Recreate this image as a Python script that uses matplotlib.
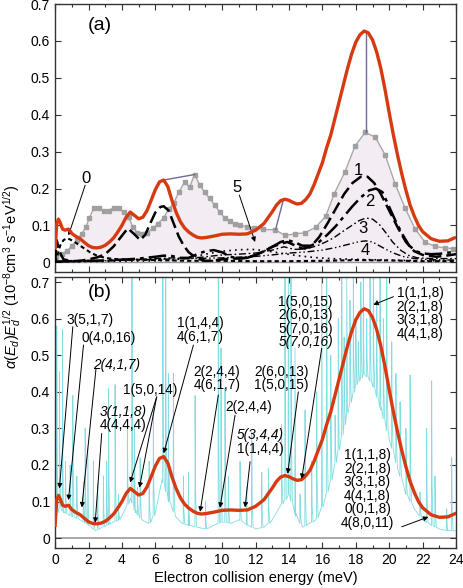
import numpy as np
import matplotlib
matplotlib.use("Agg")
import matplotlib.pyplot as plt
from matplotlib.ticker import MultipleLocator, FuncFormatter

plt.rcParams['font.family'] = ['Liberation Sans', 'DejaVu Sans']
plt.rcParams['mathtext.fontset'] = 'custom'
plt.rcParams['mathtext.rm'] = 'Liberation Sans'
plt.rcParams['mathtext.it'] = 'Liberation Sans:italic'
plt.rcParams['mathtext.bf'] = 'Liberation Sans:bold'

# ---------------- data ----------------
# convolved theory (red)
red_x = [0, 0.1, 0.2, 0.3, 0.45, 0.6, 0.8, 1.0, 1.25, 1.5, 1.75, 2.0, 2.25, 2.5, 2.75, 3.0, 3.25,
         3.5, 3.75, 4.0, 4.25, 4.5, 4.75, 5.0, 5.25, 5.5, 5.75, 6.0, 6.25, 6.5, 6.75, 7.0, 7.25,
         7.5, 7.75, 8.0, 8.25, 8.5, 8.75, 9.0, 9.5, 10.0, 10.5, 11.0, 11.5, 12.0, 12.5, 13.0,
         13.25, 13.5, 13.75, 14.0, 14.25, 14.5, 14.75, 15.0, 15.25, 15.5, 15.75, 16.0, 16.25,
         16.5, 16.75, 17.0, 17.25, 17.5, 17.75, 18.0, 18.25, 18.5, 18.75, 19.0, 19.25, 19.5,
         19.75, 20.0, 20.25, 20.5, 20.75, 21.0, 21.25, 21.5, 21.75, 22.0, 22.5, 23.0, 23.5, 24.0]
red_y = [0.035, 0.105, 0.117, 0.108, 0.09, 0.087, 0.09, 0.078, 0.07, 0.064, 0.054, 0.045, 0.04,
         0.039, 0.041, 0.046, 0.055, 0.066, 0.082, 0.1, 0.122, 0.136, 0.127, 0.118, 0.122, 0.14,
         0.168, 0.197, 0.218, 0.223, 0.205, 0.167, 0.135, 0.11, 0.093, 0.082, 0.074, 0.068,
         0.066, 0.067, 0.071, 0.076, 0.077, 0.076, 0.077, 0.087, 0.105, 0.137, 0.155, 0.167,
         0.171, 0.168, 0.162, 0.158, 0.16, 0.17, 0.185, 0.21, 0.24, 0.27, 0.31, 0.345, 0.39,
         0.435, 0.48, 0.525, 0.565, 0.597, 0.617, 0.627, 0.622, 0.603, 0.57, 0.525, 0.468,
         0.405, 0.345, 0.29, 0.24, 0.195, 0.155, 0.125, 0.1, 0.083, 0.064, 0.057, 0.058, 0.068]

# experiment (grey squares)
exp_x = [0.06, 0.4, 0.7, 1.0, 1.3, 1.6, 1.85, 2.05, 2.3, 2.6, 2.9, 3.2, 3.5, 3.8, 4.1, 4.4, 4.65,
         4.93, 5.23, 5.53, 5.84, 6.15, 6.5, 6.8, 7.1, 7.4, 7.75, 8.05, 8.35, 8.65, 8.95, 9.25,
         9.55, 9.85, 10.15, 10.47, 10.77, 11.07, 11.5, 11.9, 12.47, 13.17, 13.77, 14.37, 14.96,
         15.6, 16.2, 16.7, 17.35, 17.95, 18.55, 19.15, 19.75, 20.35, 20.95, 21.54, 22.14,
         22.74, 23.34, 23.84]
exp_y = [0.014, 0.022, 0.031, 0.044, 0.06, 0.078, 0.096, 0.12, 0.146, 0.148, 0.138, 0.14, 0.148,
         0.146, 0.135, 0.122, 0.096, 0.08, 0.077, 0.08, 0.092, 0.105, 0.12, 0.145, 0.16, 0.19,
         0.217, 0.204, 0.238, 0.21, 0.19, 0.173, 0.155, 0.137, 0.12, 0.112, 0.105, 0.1, 0.097,
         0.093, 0.089, 0.088, 0.073, 0.077, 0.08, 0.095, 0.125, 0.185, 0.245, 0.315, 0.352,
         0.34, 0.292, 0.213, 0.147, 0.091, 0.055, 0.043, 0.039, 0.037]

# partial contributions (black)
c0_x = [0, 0.15, 0.3, 0.5, 0.7, 0.9, 1.2, 1.5, 1.8, 2.1, 2.5, 3.0, 3.5, 4.0, 5.0, 6, 7, 8, 10,
        12, 14, 16, 18, 20, 22, 24]
c0_y = [0.0, 0.02, 0.045, 0.06, 0.065, 0.062, 0.054, 0.045, 0.036, 0.027, 0.018, 0.012, 0.009,
        0.008, 0.007, 0.006, 0.005, 0.004, 0.004, 0.003, 0.003, 0.004, 0.006, 0.005, 0.003, 0.003]
c1_x = [0, 0.1, 0.25, 0.5, 1.0, 1.5, 2, 2.5, 3, 3.5, 4, 4.35, 4.7, 5.1, 5.4, 5.7, 6, 6.3, 6.5,
        6.8, 7.1, 7.4, 7.7, 8, 8.5, 9, 9.5, 10, 10.5, 11, 11.5, 12, 12.5, 13, 13.5, 13.9, 14.3,
        14.8, 15.3, 15.8, 16.3, 16.8, 17.3, 17.8, 18.3, 18.7, 19.1, 19.5, 20, 20.5, 21, 21.5,
        22, 22.8, 23.4, 24]
c1_y = [0, 0.06, 0.03, 0.008, 0.003, 0.004, 0.008, 0.013, 0.022, 0.043, 0.072, 0.092, 0.078,
        0.06, 0.075, 0.106, 0.135, 0.15, 0.152, 0.14, 0.105, 0.07, 0.045, 0.027, 0.01, 0.004,
        0.005, 0.008, 0.01, 0.01, 0.013, 0.019, 0.03, 0.042, 0.05, 0.055, 0.047, 0.037, 0.042,
        0.068, 0.105, 0.145, 0.185, 0.215, 0.232, 0.232, 0.215, 0.185, 0.14, 0.095, 0.055,
        0.03, 0.02, 0.015, 0.018, 0.022]
c2_x = [0, 1, 2, 3, 4, 5, 6, 6.5, 7, 7.5, 8, 8.5, 9, 9.5, 10, 10.5, 11, 11.5, 12, 12.5, 13, 13.5,
        13.9, 14.3, 14.8, 15.3, 15.8, 16.3, 16.8, 17.3, 17.8, 18.3, 18.8, 19.2, 19.6, 20.0,
        20.4, 20.8, 21.2, 21.6, 22.0, 22.5, 23, 23.5, 24]
c2_y = [0.002, 0.003, 0.004, 0.005, 0.007, 0.01, 0.015, 0.018, 0.017, 0.012, 0.012, 0.022, 0.03,
        0.033, 0.027, 0.015, 0.01, 0.012, 0.02, 0.03, 0.042, 0.055, 0.06, 0.055, 0.045, 0.045,
        0.055, 0.075, 0.098, 0.125, 0.152, 0.176, 0.195, 0.2, 0.19, 0.15, 0.11, 0.075, 0.045,
        0.03, 0.024, 0.022, 0.023, 0.026, 0.028]
c3_x = [0, 2, 4, 6, 7, 8, 9, 10, 11, 12, 13, 13.7, 14.3, 15, 15.7, 16.2, 16.7, 17.2, 17.7, 18.2,
        18.6, 19.0, 19.4, 19.8, 20.2, 20.7, 21.2, 21.7, 22.5, 24]
c3_y = [0.002, 0.004, 0.006, 0.01, 0.012, 0.01, 0.015, 0.02, 0.022, 0.025, 0.033, 0.042, 0.035,
        0.036, 0.045, 0.055, 0.067, 0.083, 0.098, 0.113, 0.12, 0.117, 0.103, 0.08, 0.055,
        0.032, 0.018, 0.012, 0.01, 0.01]
c4_x = [0, 2, 4, 6, 8, 10, 12, 13, 14, 15, 16, 16.8, 17.5, 18.2, 18.6, 19.0, 19.6, 20.2, 20.8,
        21.5, 22.5, 24]
c4_y = [0.001, 0.003, 0.005, 0.008, 0.01, 0.012, 0.016, 0.02, 0.025, 0.028, 0.033, 0.04, 0.048,
        0.056, 0.058, 0.055, 0.04, 0.026, 0.016, 0.01, 0.007, 0.006]
c5_x = [0, 2, 4, 6, 7, 8, 9, 10, 11, 11.8, 12.5, 13.5, 14.5, 15.5, 16.5, 18, 20, 22, 24]
c5_y = [0.001, 0.002, 0.003, 0.004, 0.006, 0.012, 0.022, 0.03, 0.034, 0.035, 0.032, 0.025,
        0.018, 0.013, 0.01, 0.008, 0.006, 0.004, 0.004]

# shift connectors (theory peak -> experiment peak)
shift_x = [(6.38, 8.35), (13.66, 13.2), (18.6, 18.6)]
shift_y = [(0.222, 0.238), (0.169, 0.089), (0.626, 0.352)]

# unconvolved theory (cyan): smooth background + resonance spikes
bg_x = [0, 0.15, 0.5, 1.0, 1.5, 2.0, 2.4, 2.8, 3.3, 3.8, 4.2, 4.5, 4.8, 5.2, 5.6, 6.0, 6.4, 6.8,
        7.2, 7.6, 8.0, 8.5, 9.0, 9.5, 10.0, 10.5, 11.0, 11.5, 12.0, 12.5, 13.0, 13.5, 14.0, 14.4,
        14.8, 15.2, 15.6, 16.0, 16.5, 17.0, 17.5, 18.0, 18.5, 19.0, 19.5, 20.0, 20.5, 21.0,
        21.5, 22.0, 22.5, 23.0, 23.5, 24.0]
bg_y = [0.03, 0.09, 0.07, 0.06, 0.05, 0.035, 0.02, 0.03, 0.04, 0.05, 0.08, 0.11, 0.07, 0.05,
        0.04, 0.07, 0.16, 0.1, 0.06, 0.04, 0.035, 0.03, 0.025, 0.035, 0.045, 0.04, 0.05, 0.035,
        0.025, 0.03, 0.05, 0.09, 0.12, 0.06, 0.03, 0.04, 0.05, 0.09, 0.16, 0.25, 0.35, 0.42,
        0.45, 0.42, 0.35, 0.27, 0.19, 0.12, 0.08, 0.05, 0.035, 0.025, 0.02, 0.02]
spk_x = [0.1, 0.26, 0.44, 0.62, 0.9, 1.06, 1.3, 1.69, 1.8, 1.96, 2.29, 2.55, 2.89, 3.09, 3.2,
         3.59, 3.79, 4.33, 4.6, 4.75, 4.93, 5.09, 5.63, 5.88, 6.45, 6.62, 6.78, 7.08, 7.68, 7.98,
         8.38, 9.0, 9.77, 9.93, 10.17, 10.37, 11.07, 11.47, 11.77, 12.37, 12.77, 13.56, 13.76,
         13.96, 14.12, 14.36, 14.66, 14.96, 15.36, 15.66, 15.96, 16.26, 16.5, 16.76, 16.95,
         17.16, 17.3, 17.46, 17.65, 17.85, 18.0, 18.15, 18.3, 18.45, 18.65, 18.85, 19.05,
         19.25, 19.45, 19.65, 19.85, 20.15, 20.4, 20.65, 21.0, 21.25, 21.84, 22.24, 22.54,
         22.74, 23.44, 23.74]
spk_h = [0.58, 0.455, 0.57, 0.21, 0.2, 0.39, 0.17, 0.154, 0.3, 0.25, 0.21, 0.15, 0.17, 0.21,
         0.41, 0.42, 0.12, 0.3, 0.72, 0.31, 0.14, 0.22, 0.21, 0.35, 0.72, 0.72, 0.45, 0.45,
         0.17, 0.18, 0.39, 0.1, 0.72, 0.52, 0.41, 0.17, 0.21, 0.14, 0.29, 0.18, 0.19, 0.31,
         0.72, 0.72, 0.72, 0.52, 0.12, 0.35, 0.21, 0.4, 0.72, 0.72, 0.5, 0.336, 0.6, 0.72,
         0.55, 0.72, 0.65, 0.72, 0.6, 0.537, 0.7, 0.72, 0.6, 0.72, 0.72, 0.65, 0.72, 0.6, 0.72,
         0.537, 0.45, 0.373, 0.3, 0.446, 0.126, 0.3, 0.43, 0.17, 0.08, 0.22]

# labels of panel (b): lines, italic flags, centre x, first-line y
b_labels = [
    (["3(5,1,7)"], [False], 2.09, 0.596),
    (["0(4,0,16)"], [False], 3.19, 0.546),
    (["2(4,1,7)"], [True], 3.69, 0.473),
    (["3(1,1,8)", "4(4,4,4)"], [True, False], 4.09, 0.346),
    (["1(5,0,14)"], [False], 5.69, 0.405),
    (["1(1,4,4)", "4(6,1,7)"], [False, False], 8.68, 0.587),
    (["2(2,4,4)", "4(6,1,7)"], [False, False], 9.68, 0.455),
    (["2(2,4,4)"], [False], 11.57, 0.359),
    (["5(3,4,4)", "1(1,4,4)"], [True, False], 12.27, 0.282),
    (["2(6,0,13)", "1(5,0,15)"], [False, False], 13.56, 0.455),
    (["1(5,0,15)", "2(6,0,13)", "5(7,0,16)", "5(7,0,16)"], [False, False, False, True], 15.0, 0.646),
    (["1(1,1,8)", "2(2,1,8)", "3(3,1,8)", "4(4,1,8)"], [False] * 4, 21.84, 0.669),
    (["1(1,1,8)", "2(2,1,8)", "3(3,1,8)", "4(4,1,8)", "0(0,1,8)", "4(8,0,11)"], [False] * 6, 18.7, 0.227),
]
# arrows of panel (b): start x, start y, tip x, tip y
b_arrows = [
    (1.06, 0.578, 0.26, 0.136), (1.7, 0.528, 0.8, 0.104), (2.45, 0.464, 1.6, 0.084),
    (2.79, 0.286, 2.4, 0.042), (6.08, 0.386, 4.49, 0.152), (6.08, 0.386, 5.05, 0.138),
    (8.28, 0.528, 6.5, 0.232), (9.77, 0.391, 8.68, 0.072), (10.77, 0.336, 9.87, 0.083),
    (11.67, 0.209, 11.37, 0.084), (14.56, 0.4, 13.92, 0.176), (15.96, 0.519, 14.76, 0.162),
    (20.25, 0.66, 19.05, 0.638), (20.75, 0.031, 22.34, 0.058),
]

# ---------------- figure ----------------
fig = plt.figure(figsize=(4.63, 5.88), dpi=100)
ax1 = fig.add_axes([0.119, 0.537, 0.866, 0.456])
ax2 = fig.add_axes([0.119, 0.068, 0.866, 0.461])

RED = '#d63a10'

# panel (a)
ax1.axhline(0, color='#999999', lw=1.0, zorder=1)
ax1.fill_between(exp_x, 0, exp_y, color='#f3ecf3', lw=0, zorder=0)
ax1.plot(exp_x, exp_y, color='#a8a8a8', lw=1.0, marker='s', ms=3.2, mfc='#a0a0a0',
         mec='#a0a0a0', zorder=2)
k = dict(color='black', zorder=3)
ax1.plot(c5_x, c5_y, lw=1.2, dashes=(1, 2.5), **k)
ax1.plot(c4_x, c4_y, lw=1.0, dashes=(5, 2, 1, 2, 1, 2), **k)
ax1.plot(c3_x, c3_y, lw=1.0, dashes=(5, 2, 1.2, 2), **k)
ax1.plot(c2_x, c2_y, lw=1.8, dashes=(7, 2, 1.5, 2), **k)
ax1.plot(c1_x, c1_y, lw=1.8, dashes=(5, 2), **k)
ax1.plot(c0_x, c0_y, lw=1.5, dashes=(2, 1.5), **k)
for sx, sy in zip(shift_x, shift_y):
    ax1.plot(sx, sy, color='#6e6a9a', lw=1.0, zorder=4)
ax1.plot(red_x, red_y, color=RED, lw=2.4, zorder=5, solid_capstyle='butt')

ax1.text(2.69, 0.643, '(a)', fontsize=14, ha='center', va='center')
for t, x, y in [('1', 18.15, 0.25), ('2', 18.85, 0.164), ('3', 18.41, 0.091), ('4', 18.55, 0.033)]:
    ax1.text(x, y, t, fontsize=12, ha='center', va='center', zorder=6)
ax1.text(1.86, 0.228, '0', fontsize=12, ha='center', va='center')
ax1.text(10.87, 0.204, '5', fontsize=12, ha='center', va='center')
ap = dict(arrowstyle='-|>', lw=0.7, color='black', mutation_scale=7, shrinkA=0, shrinkB=0)
ax1.annotate('', xy=(0.8, 0.073), xytext=(1.8, 0.209), arrowprops=ap)
ax1.annotate('', xy=(11.97, 0.055), xytext=(11.03, 0.182), arrowprops=ap)

# panel (b): cyan curve built from background and spike lists
base_at = np.interp(spk_x, bg_x, bg_y)
pts = list(zip(bg_x, bg_y))
for sx, sh, b in zip(spk_x, spk_h, base_at):
    pts += [(sx - 0.012, b), (sx, sh), (sx + 0.025, b + 0.3 * (sh - b)), (sx + 0.08, b)]
pts.sort(key=lambda p: p[0])
cx = [p[0] for p in pts]
cy = [p[1] for p in pts]
ax2.axhline(0, color='#999999', lw=1.2, zorder=1)
ax2.plot(cx, cy, color='#82dde0', lw=0.6, zorder=2)
ax2.plot(red_x, red_y, color=RED, lw=2.4, zorder=5)
ax2.text(2.69, 0.672, '(b)', fontsize=14, ha='center', va='center')

dy = 0.037
for lines, ital, x, y0 in b_labels:
    for i, (s, it) in enumerate(zip(lines, ital)):
        ax2.text(x, y0 - i * dy, s, fontsize=9.8, ha='center', va='center',
                 style='italic' if it else 'normal', zorder=6)
for x0, y0, x1, y1 in b_arrows:
    ax2.annotate('', xy=(x1, y1), xytext=(x0, y0), arrowprops=ap, zorder=6)

# axes styling
fmt = FuncFormatter(lambda v, p: '0' if abs(v) < 1e-9 else f'{v:.1f}')
for ax, yl in [(ax1, (-0.027, 0.70)), (ax2, (-0.027, 0.714))]:
    ax.set_xlim(0, 24)
    ax.set_ylim(*yl)
    ax.xaxis.set_major_locator(MultipleLocator(2))
    ax.xaxis.set_minor_locator(MultipleLocator(1))
    ax.yaxis.set_major_locator(MultipleLocator(0.1))
    ax.yaxis.set_major_formatter(fmt)
    ax.tick_params(which='both', direction='in', top=True, right=True, labelsize=10,
                   width=0.8, color='#333333')
    ax.tick_params(which='major', length=4)
    ax.tick_params(which='minor', length=2.5)
    for sp in ax.spines.values():
        sp.set_linewidth(1.0)
        sp.set_color('#333333')
ax1.tick_params(labelbottom=False)

ax2.set_xlabel('Electron collision energy (meV)', fontsize=10.5, labelpad=3)
fig.text(0.026, 0.53,
         r'$\alpha(E_d)E_d^{1/2}$ (10$^{-8}$cm$^3$ s$^{-1}$eV$^{1/2}$)',
         rotation=90, ha='center', va='center', fontsize=10.5)

fig.savefig('out.png', dpi=100)
